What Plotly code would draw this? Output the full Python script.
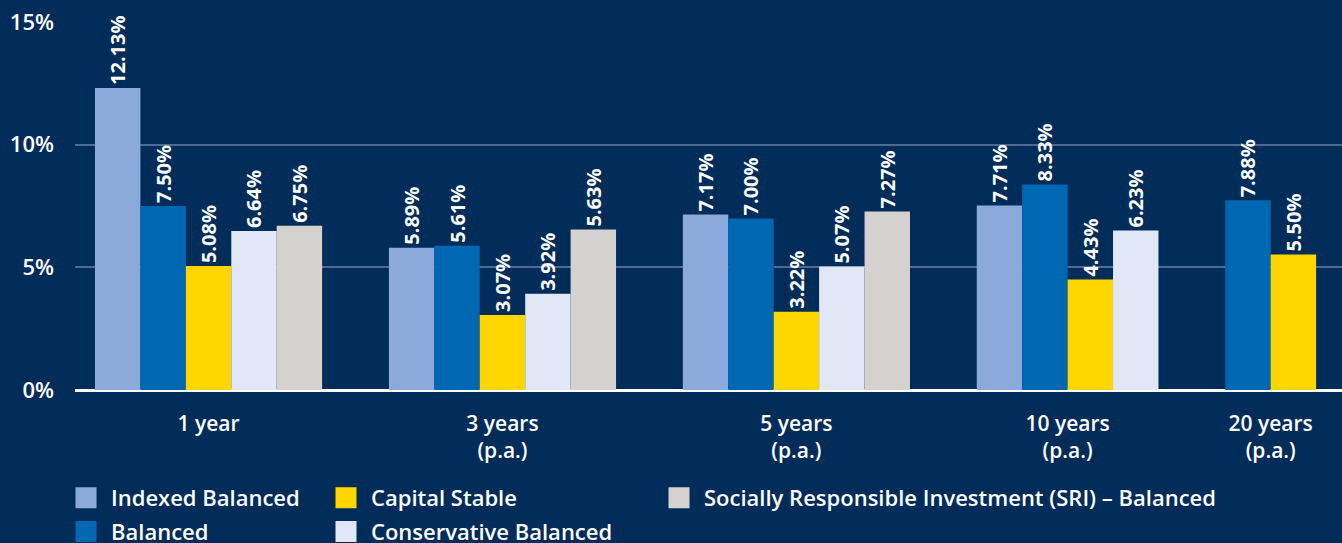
import plotly.graph_objects as go

# investment periods (x categories)
periods = ["1 year", "3 years<br>(p.a.)", "5 years<br>(p.a.)", "10 years<br>(p.a.)", "20 years<br>(p.a.)"]

series_names = [
    "Indexed Balanced",
    "Balanced",
    "Capital Stable",
    "Conservative Balanced",
    "Socially Responsible Investment (SRI) – Balanced",
]
colors = ["#8BAADB", "#0067B3", "#FFD600", "#E1E7F6", "#D5D1CE"]

# bar heights as drawn (%), None = no bar for that period
indexed_balanced = [12.31, 5.80, 7.15, 7.52, None]
balanced = [7.50, 5.88, 6.99, 8.38, 7.73]
capital_stable = [5.05, 3.06, 3.19, 4.50, 5.52]
conservative_balanced = [6.48, 3.92, 5.03, 6.50, None]
sri_balanced = [6.69, 6.54, 7.28, None, None]

# printed labels on the bars
indexed_balanced_lbl = ["12.13%", "5.89%", "7.17%", "7.71%", None]
balanced_lbl = ["7.50%", "5.61%", "7.00%", "8.33%", "7.88%"]
capital_stable_lbl = ["5.08%", "3.07%", "3.22%", "4.43%", "5.50%"]
conservative_balanced_lbl = ["6.64%", "3.92%", "5.07%", "6.23%", None]
sri_balanced_lbl = ["6.75%", "5.63%", "7.27%", None, None]

y_ticks = [0, 5, 10, 15]
y_tick_text = ["0%", "5%", "10%", "15%"]

values = [indexed_balanced, balanced, capital_stable, conservative_balanced, sri_balanced]
labels = [indexed_balanced_lbl, balanced_lbl, capital_stable_lbl,
          conservative_balanced_lbl, sri_balanced_lbl]

BG = "#002C5A"
FONT = "Open Sans"
GAP = 1.47  # space between period groups, in bar widths

# bars are packed side by side within a period, skipping missing series
xs = [[] for _ in series_names]
ys = [[] for _ in series_names]
ts = [[] for _ in series_names]
centers = []
pos = 0.0
for p in range(len(periods)):
    start = pos
    for s in range(len(series_names)):
        if values[s][p] is None:
            continue
        xs[s].append(pos)
        ys[s].append(values[s][p])
        ts[s].append(labels[s][p])
        pos += 1
    centers.append((start + pos - 1) / 2)
    pos += GAP
last = pos - GAP - 1

fig = go.Figure()
for s, name in enumerate(series_names):
    fig.add_trace(go.Bar(
        x=xs[s], y=ys[s], width=1, name=name,
        marker=dict(color=colors[s], line_width=0),
        text=ts[s], textposition="outside", textangle=-90, constraintext="none",
        textfont=dict(family=FONT, size=20, color="white", weight="bold"),
        cliponaxis=False, showlegend=False, hoverinfo="skip",
    ))

# legend entries in three columns
legend_col = ["legend", "legend", "legend2", "legend2", "legend3"]
for s, name in enumerate(series_names):
    fig.add_trace(go.Scatter(
        x=[None], y=[None], mode="markers", name=name,
        marker=dict(symbol="square", size=16, color=colors[s],
                    line=dict(color=colors[s], width=5)),
        legend=legend_col[s], legendgroup=name,
    ))

# plot area: 75..1342 px wide, 22..390 px tall
PL, PW, PB, PH = 75, 1267, 390, 368
leg_y = (PB - 477) / PH
legend_style = dict(
    xref="paper", yref="paper", yanchor="top", xanchor="left",
    orientation="v", bgcolor="rgba(0,0,0,0)", tracegroupgap=2, itemwidth=40,
    font=dict(family=FONT, size=22, color="white", weight=600),
)

fig.update_layout(
    width=1342, height=543,
    paper_bgcolor=BG, plot_bgcolor=BG,
    margin=dict(l=75, r=0, t=22, b=153, autoexpand=False),
    barmode="overlay",
    font=dict(family=FONT, color="white"),
    legend=dict(x=(61 - PL) / PW, y=leg_y, **legend_style),
    legend2=dict(x=(321 - PL) / PW, y=leg_y, **legend_style),
    legend3=dict(x=(654 - PL) / PW, y=leg_y, **legend_style),
)

fig.update_xaxes(
    range=[-0.94, last + 1.07],
    tickmode="array", tickvals=centers, ticktext=periods, tickangle=0,
    showgrid=False, zeroline=False, showline=False,
    ticks="", ticklabelstandoff=19,
    tickfont=dict(family=FONT, size=21, color="white", weight=600),
)
fig.update_yaxes(
    range=[0, 15], tickmode="array", tickvals=y_ticks, ticktext=y_tick_text,
    showgrid=True, gridcolor="#4D6A93", gridwidth=1.5,
    zeroline=True, zerolinecolor="white", zerolinewidth=3,
    showline=False, ticks="", ticklabelstandoff=20,
    tickfont=dict(family=FONT, size=22, color="white", weight=600),
)

fig.write_html("out.html", config={"displayModeBar": False},
               post_script="document.body.style.margin='0px';")
